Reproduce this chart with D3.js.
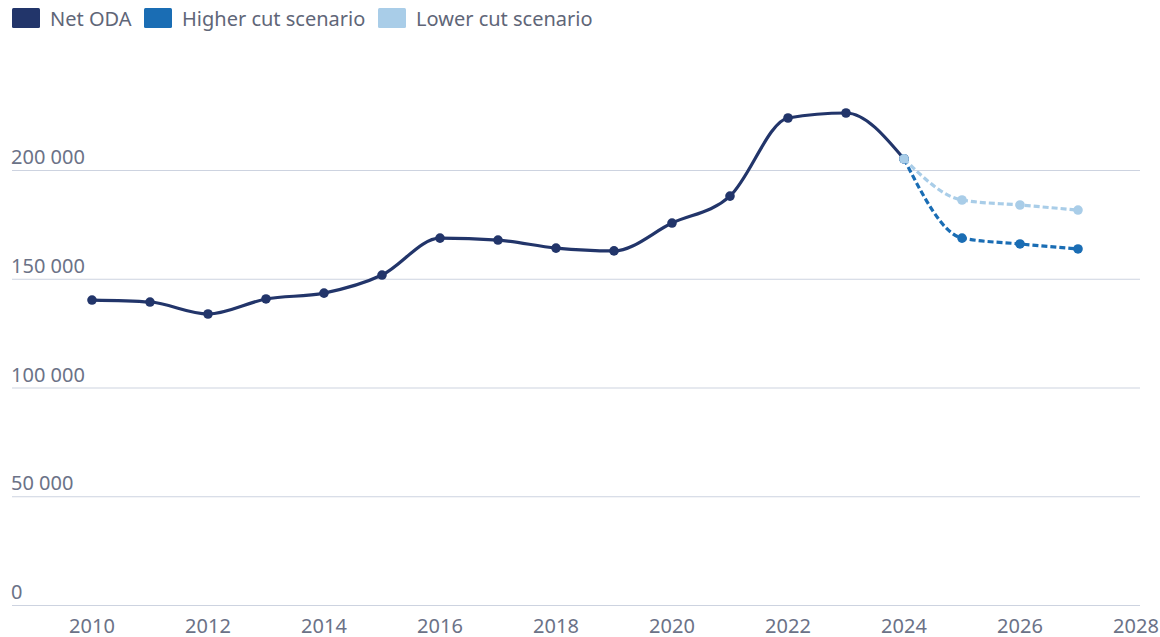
<html>
<head>
    <meta charset="utf-8">
    <title>Net ODA scenarios</title>
    <style>
        body { margin: 0; background: #fff; }
        text { font-family: "Noto Sans", "Open Sans", sans-serif; }
    </style>
</head>
<body>
    <script src="https://cdn.jsdelivr.net/npm/d3@7"></script>
    <script>
        var width = 1160, height = 637;

        // data
        const years = [2010, 2011, 2012, 2013, 2014, 2015, 2016, 2017, 2018, 2019, 2020, 2021, 2022, 2023, 2024];
        const netOda = [140200, 139300, 133800, 140700, 143400, 151700, 168700, 167800, 164100, 162800, 175600, 188000, 223900, 226200, 205100];
        const scenarioYears = [2024, 2025, 2026, 2027];
        const higherCut = [205100, 168700, 166000, 163700];
        const lowerCut = [205100, 186200, 183900, 181600];
        const yTicks = [0, 50000, 100000, 150000, 200000];
        const xTicks = [2010, 2012, 2014, 2016, 2018, 2020, 2022, 2024, 2026, 2028];
        const legendNames = ["Net ODA", "Higher cut scenario", "Lower cut scenario"];
        const colors = ["#22356a", "#1a6db4", "#a9cde8"];

        var svg = d3.select("body").append("svg")
            .attr("width", width)
            .attr("height", height);

        const x = d3.scaleLinear().domain([2010, 2028]).range([92, 1136]);
        const y = d3.scaleLinear().domain([0, 200000]).range([605, 170]);

        // gridlines + y labels
        var grid = svg.append("g");
        grid.selectAll("line")
            .data(yTicks)
            .enter()
            .append("line")
            .attr("x1", 12)
            .attr("x2", 1140)
            .attr("y1", d => y(d) + 0.5)
            .attr("y2", d => y(d) + 0.5)
            .attr("stroke", "#cdd3e0")
            .attr("stroke-width", 1.2);

        var fmt = d => d3.format(",")(d).replace(/,/g, " ");
        grid.selectAll("text")
            .data(yTicks)
            .enter()
            .append("text")
            .attr("x", 11)
            .attr("y", d => y(d) - 6)
            .attr("fill", "#6b7287")
            .attr("font-size", "20px")
            .text(fmt);

        // x axis labels
        svg.append("g").selectAll("text")
            .data(xTicks)
            .enter()
            .append("text")
            .attr("x", d => x(d))
            .attr("y", 633)
            .attr("text-anchor", "middle")
            .attr("fill", "#6b7287")
            .attr("font-size", "20px")
            .text(d => d);

        var line = d3.line()
            .x(d => x(d[0]))
            .y(d => y(d[1]))
            .curve(d3.curveMonotoneX);

        function drawSeries(xs, vals, color, dashed) {
            var pts = xs.map((d, i) => [d, vals[i]]);
            var g = svg.append("g");
            g.append("path")
                .attr("d", line(pts))
                .attr("fill", "none")
                .attr("stroke", color)
                .attr("stroke-width", 3.2)
                .attr("stroke-dasharray", dashed ? "6,3" : null);
            g.selectAll("circle")
                .data(pts)
                .enter()
                .append("circle")
                .attr("cx", d => x(d[0]))
                .attr("cy", d => y(d[1]))
                .attr("r", 4.8)
                .attr("fill", color);
            return g;
        }

        drawSeries(years, netOda, colors[0], false);
        drawSeries(scenarioYears, higherCut, colors[1], true);
        drawSeries(scenarioYears, lowerCut, colors[2], true);

        // legend
        var legendX = [12, 144, 378];
        var legend = svg.append("g");
        legendNames.forEach(function (name, i) {
            legend.append("rect")
                .attr("x", legendX[i])
                .attr("y", 8)
                .attr("width", 28)
                .attr("height", 20)
                .attr("rx", 1.5)
                .attr("fill", colors[i]);
            legend.append("text")
                .attr("x", legendX[i] + 38)
                .attr("y", 26)
                .attr("fill", "#5f6678")
                .attr("font-size", "20px")
                .text(name);
        });
    </script>
</body>
</html>
